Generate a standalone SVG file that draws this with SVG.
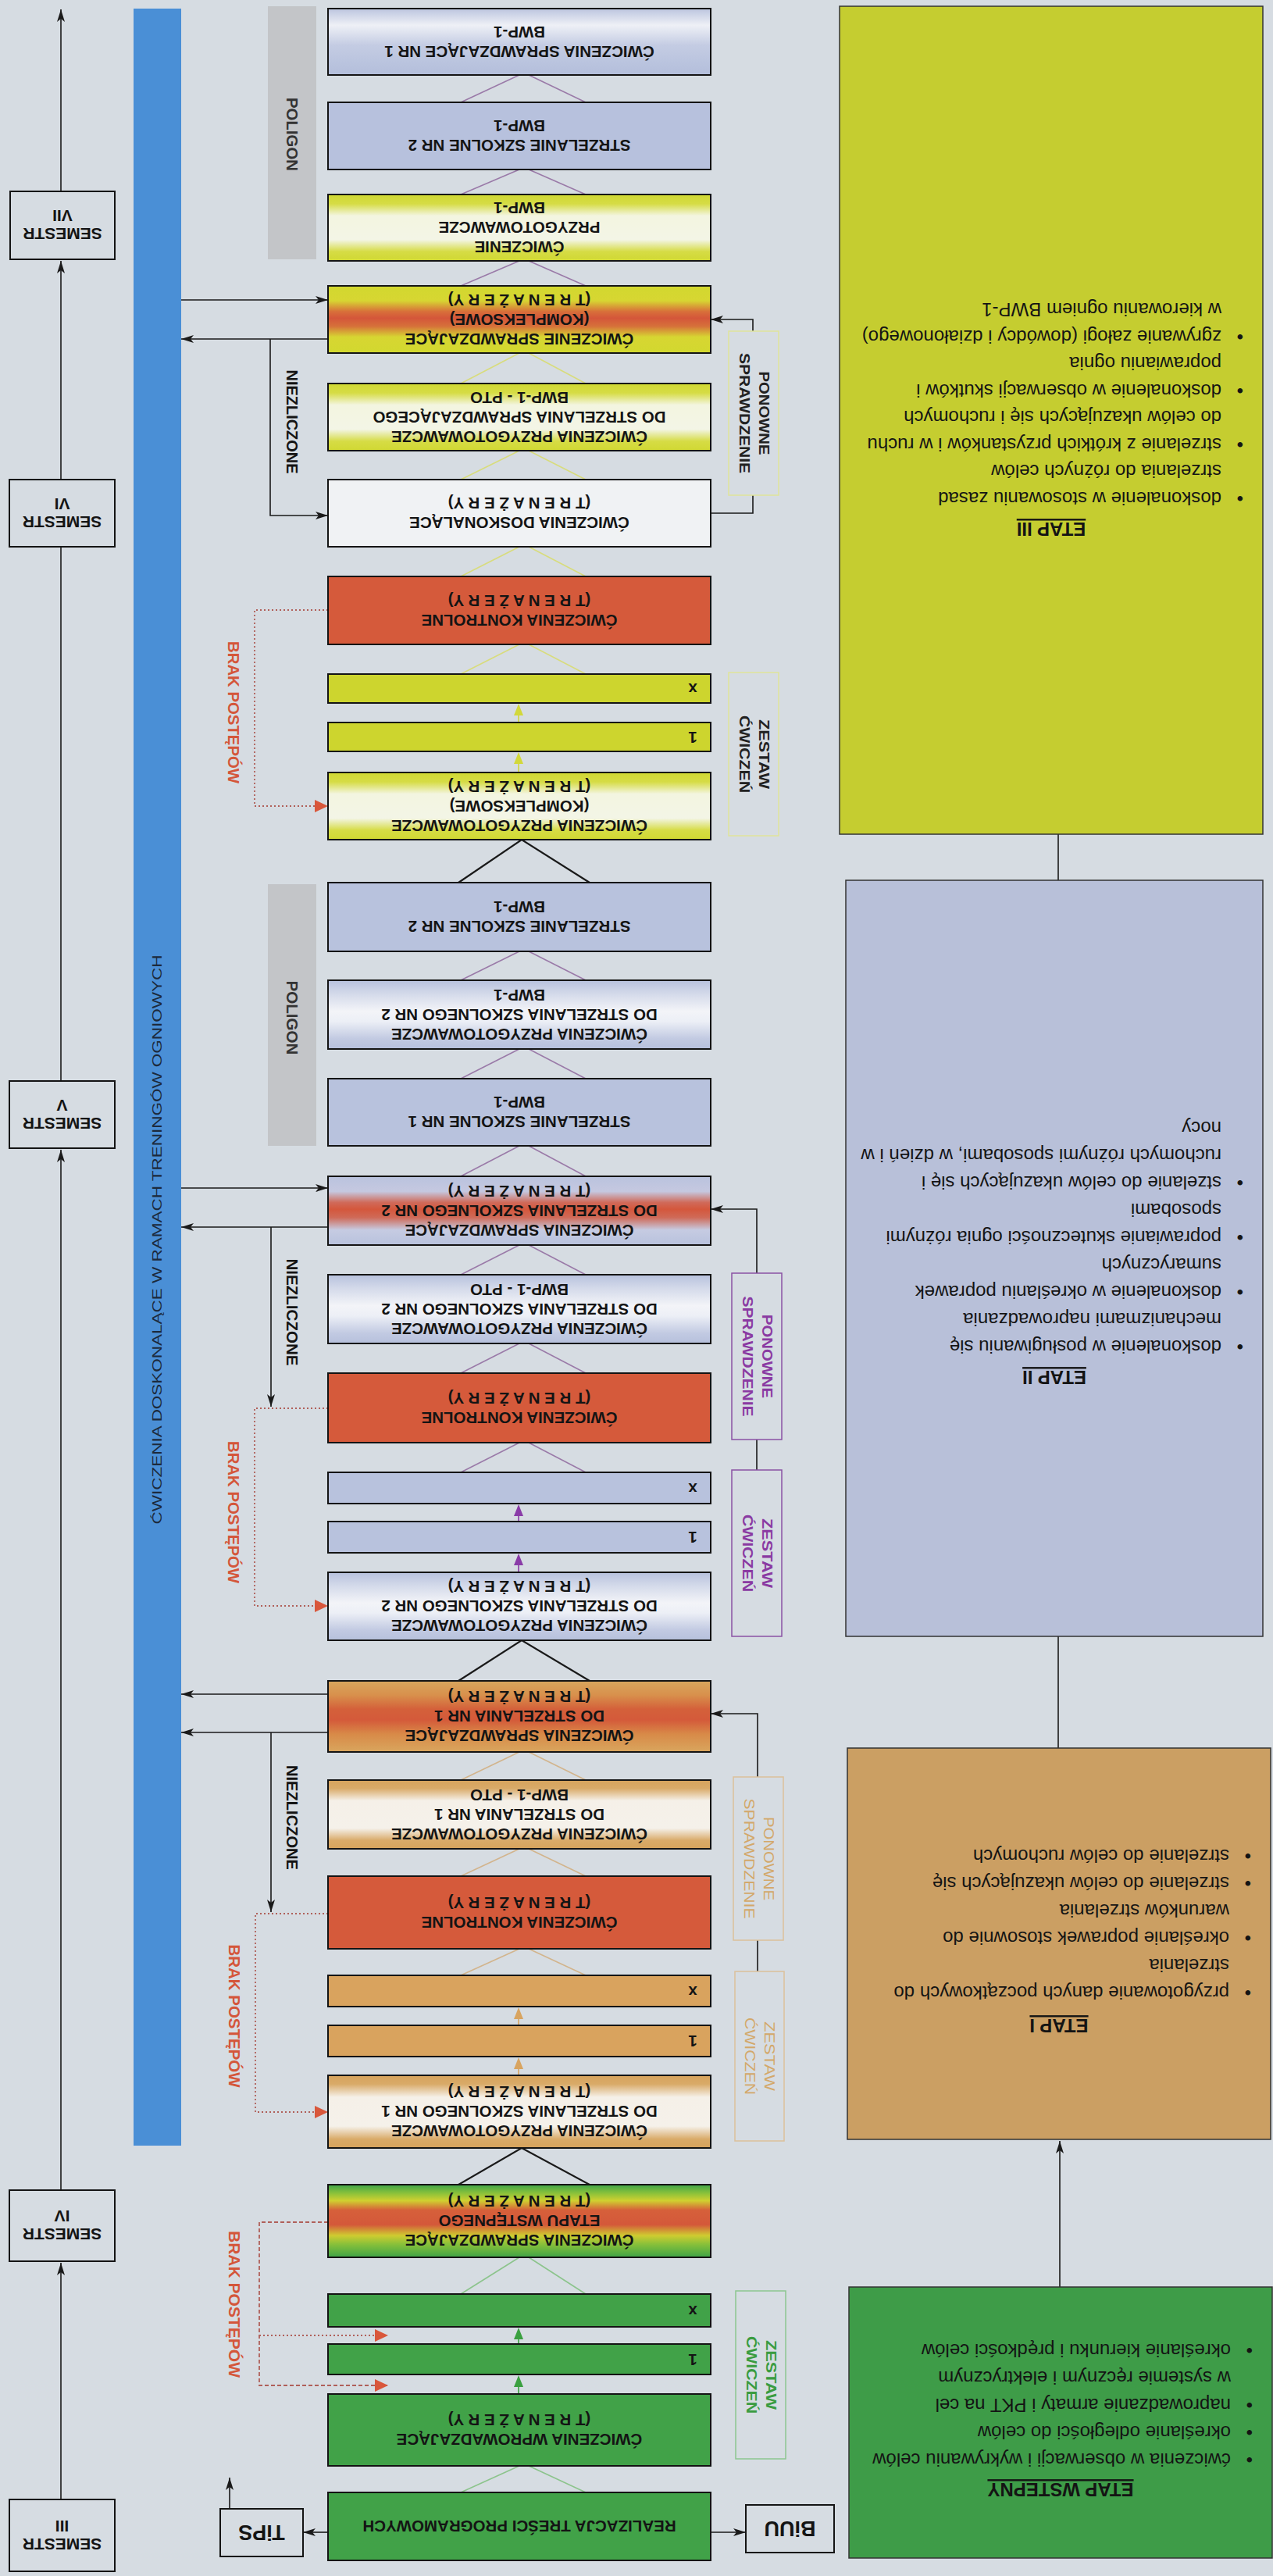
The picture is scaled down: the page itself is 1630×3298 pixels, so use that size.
<svg xmlns="http://www.w3.org/2000/svg" width="1630" height="3298" viewBox="0 0 1630 3298">
<defs>
<style>
.bt{font-family:"Liberation Sans",Arial,sans-serif;font-weight:bold;font-size:20.5px;text-anchor:middle;fill:#141414}
.st{font-family:"Liberation Sans",Arial,sans-serif;font-weight:bold;font-size:21px;text-anchor:middle;fill:#141414}
.et{font-family:"Liberation Sans",Arial,sans-serif;font-size:24px;fill:#141414}
.eh{font-family:"Liberation Sans",Arial,sans-serif;font-size:24px;font-weight:bold;text-anchor:middle;text-decoration:underline;fill:#141414}
.vl{font-family:"Liberation Sans Narrow","Liberation Sans",Arial,sans-serif;font-weight:bold;font-size:21px}
.lb{font-family:"Liberation Sans Narrow","Liberation Sans",Arial,sans-serif;font-weight:bold;font-size:18px}
.bar{font-family:"Liberation Sans Narrow","Liberation Sans",Arial,sans-serif;font-size:17px;fill:#1c2a3c}
.box{stroke:#141414;stroke-width:2}
.ln{fill:none;stroke:#1a1a1a;stroke-width:1.6}
.dot{fill:none;stroke:#b0605a;stroke-width:1.8;stroke-dasharray:2 3}
.dash{fill:none;stroke:#b0605a;stroke-width:1.8;stroke-dasharray:5 3}
.tp{fill:none;stroke:#9a7aa8;stroke-width:1.6}
.ty{fill:none;stroke:#d8dc7c;stroke-width:1.6}
.tt{fill:none;stroke:#d2b48c;stroke-width:1.6}
.tg{fill:none;stroke:#8cc48c;stroke-width:1.6}
.tk{fill:none;stroke:#1a1a1a;stroke-width:2.2}
</style>
<linearGradient id="gY" x1="0" y1="0" x2="0" y2="1"><stop offset="0" stop-color="#d0d832"/><stop offset="0.14" stop-color="#d6dc45"/><stop offset="0.32" stop-color="#f3f5e0"/><stop offset="0.68" stop-color="#f3f5e6"/><stop offset="0.86" stop-color="#d6dc45"/><stop offset="1" stop-color="#d0d832"/></linearGradient>
<linearGradient id="gYR" x1="0" y1="0" x2="0" y2="1"><stop offset="0" stop-color="#d2d82f"/><stop offset="0.22" stop-color="#d7d632"/><stop offset="0.38" stop-color="#d8703a"/><stop offset="0.48" stop-color="#d4563a"/><stop offset="0.6" stop-color="#d6703a"/><stop offset="0.76" stop-color="#d7d632"/><stop offset="1" stop-color="#d2d82f"/></linearGradient>
<linearGradient id="gBW" x1="0" y1="0" x2="0" y2="1"><stop offset="0" stop-color="#b7c1dd"/><stop offset="0.2" stop-color="#d4daea"/><stop offset="0.45" stop-color="#f3f4f8"/><stop offset="0.6" stop-color="#eceff6"/><stop offset="0.85" stop-color="#c2cae2"/><stop offset="1" stop-color="#b6c0dc"/></linearGradient>
<linearGradient id="gB1" x1="0" y1="0" x2="0" y2="1"><stop offset="0" stop-color="#bcc5df"/><stop offset="0.25" stop-color="#eef0f6"/><stop offset="0.55" stop-color="#c4cce3"/><stop offset="1" stop-color="#b3bedb"/></linearGradient>
<linearGradient id="gBR" x1="0" y1="0" x2="0" y2="1"><stop offset="0" stop-color="#bac3de"/><stop offset="0.22" stop-color="#c5c8e0"/><stop offset="0.38" stop-color="#d06a5a"/><stop offset="0.48" stop-color="#d4573c"/><stop offset="0.6" stop-color="#cf6a58"/><stop offset="0.78" stop-color="#c6cbe2"/><stop offset="1" stop-color="#b8c2dd"/></linearGradient>
<linearGradient id="gO" x1="0" y1="0" x2="0" y2="1"><stop offset="0" stop-color="#d6a35c"/><stop offset="0.12" stop-color="#d9aa68"/><stop offset="0.3" stop-color="#f5f0e8"/><stop offset="0.7" stop-color="#f5f1ea"/><stop offset="0.88" stop-color="#d9aa68"/><stop offset="1" stop-color="#d6a35c"/></linearGradient>
<linearGradient id="gOR" x1="0" y1="0" x2="0" y2="1"><stop offset="0" stop-color="#d8a65d"/><stop offset="0.2" stop-color="#d8904c"/><stop offset="0.4" stop-color="#d4603a"/><stop offset="0.55" stop-color="#d45a3a"/><stop offset="0.75" stop-color="#d88a48"/><stop offset="1" stop-color="#d9a65e"/></linearGradient>
<linearGradient id="gGR" x1="0" y1="0" x2="0" y2="1"><stop offset="0" stop-color="#3ea447"/><stop offset="0.12" stop-color="#8cc23a"/><stop offset="0.22" stop-color="#d0d030"/><stop offset="0.35" stop-color="#d6603a"/><stop offset="0.55" stop-color="#d4583a"/><stop offset="0.7" stop-color="#cfcc30"/><stop offset="0.82" stop-color="#88c03a"/><stop offset="1" stop-color="#3ea447"/></linearGradient>
<marker id="ah" markerWidth="18" markerHeight="10" refX="16" refY="5" orient="auto" markerUnits="userSpaceOnUse"><path d="M0,0 L16,5 L0,10 L4,5 z" fill="#1a1a1a"/></marker>
<marker id="ahr" markerWidth="18" markerHeight="16" refX="17" refY="8" orient="auto" markerUnits="userSpaceOnUse"><path d="M0,0 L17,8 L0,16 z" fill="#d9573b"/></marker>
</defs>
<rect width="1630" height="3298" fill="#d6dce2"/>

<g id="connectors">
<path class="ln" d="M78,245 V12" marker-end="url(#ah)"/>
<path class="ln" d="M78,614 V334" marker-end="url(#ah)"/>
<path class="ln" d="M78,1384 V700"/>
<path class="ln" d="M78,2804 V1472" marker-end="url(#ah)"/>
<path class="ln" d="M78,3200 V2897" marker-end="url(#ah)"/>
<path class="ln" d="M232,384 H420" marker-end="url(#ah)"/>
<path class="ln" d="M420,434 H232" marker-end="url(#ah)"/>
<path class="ln" d="M346,434 V660 H420" marker-end="url(#ah)"/>
<path class="ln" d="M232,1521 H420" marker-end="url(#ah)"/>
<path class="ln" d="M420,1571 H232" marker-end="url(#ah)"/>
<path class="ln" d="M347,1571 V1801" marker-end="url(#ah)"/>
<path class="ln" d="M420,2169 H232" marker-end="url(#ah)"/>
<path class="ln" d="M420,2218 H232" marker-end="url(#ah)"/>
<path class="ln" d="M347,2218 V2448" marker-end="url(#ah)"/>
<path class="dot" d="M420,781 H326 V1032 H420" marker-end="url(#ahr)"/>
<path class="dot" d="M420,1803 H326 V2056 H420" marker-end="url(#ahr)"/>
<path class="dot" d="M420,2450 H327 V2704 H420" marker-end="url(#ahr)"/>
<path class="dash" d="M420,2845 H332 V3054 H497" marker-end="url(#ahr)"/>
<path class="dot" d="M332,2990 H497" marker-end="url(#ahr)"/>
<path class="ln" d="M910,657 H964 V409 H910" marker-end="url(#ah)"/>
<path class="ln" d="M969,1882 V1548 H910" marker-end="url(#ah)"/>
<path class="ln" d="M970,2524 V2194 H910" marker-end="url(#ah)"/>
<path class="ln" d="M1355,1068 V1127"/>
<path class="ln" d="M1355,2095 V2238"/>
<path class="ln" d="M1357,2928 V2741" marker-end="url(#ah)"/>
<path class="ln" d="M420,3242 H388" marker-end="url(#ah)"/>
<path class="ln" d="M910,3242 H955" marker-end="url(#ah)"/>
<path class="ln" d="M294,3212 V3172" marker-end="url(#ah)"/>
<path class="tp" d="M590,131 L665,96 M677,96 L750,131"/>
<path class="tp" d="M590,249 L665,217 M677,217 L750,249"/>
<path class="tp" d="M590,366 L665,334 M677,334 L750,366"/>
<path class="ty" d="M590,491 L665,452 M677,452 L750,491"/>
<path class="ty" d="M590,614 L665,577 M677,577 L750,614"/>
<path class="ty" d="M590,738 L665,700 M677,700 L750,738"/>
<path class="ty" d="M590,863 L665,825 M677,825 L750,863"/>
<path class="tk" d="M587,1130 L668,1075 L755,1130"/>
<path class="tp" d="M590,1255 L665,1218 M677,1218 L750,1255"/>
<path class="tp" d="M590,1381 L665,1343 M677,1343 L750,1381"/>
<path class="tp" d="M590,1506 L665,1467 M677,1467 L750,1506"/>
<path class="tp" d="M590,1632 L665,1594 M677,1594 L750,1632"/>
<path class="tp" d="M590,1758 L665,1720 M677,1720 L750,1758"/>
<path class="tp" d="M590,1885 L665,1847 M677,1847 L750,1885"/>
<path class="tk" d="M587,2152 L668,2100 L755,2152"/>
<path class="tt" d="M590,2279 L665,2243 M677,2243 L750,2279"/>
<path class="tt" d="M590,2402 L665,2367 M677,2367 L750,2402"/>
<path class="tt" d="M590,2529 L665,2495 M677,2495 L750,2529"/>
<path class="tk" d="M587,2797 L668,2750 L755,2797"/>
<path class="tg" d="M590,2937 L665,2890 M677,2890 L750,2937"/>
<path class="tg" d="M590,3191 L665,3157 M677,3157 L750,3191"/>
<g stroke-width="1.6" fill="none">
<path stroke="#d2d83a" d="M664,925 V914 M664,989 V977"/>
<path stroke="#8a3ca8" d="M664,1948 V1939 M664,2013 V2002"/>
<path stroke="#d8a460" d="M664,2593 V2583 M664,2657 V2647"/>
<path stroke="#3aa040" d="M664,3001 V2993 M664,3065 V3054"/>
</g>
<polygon fill="#d2d83a" points="658,916 664,901 670,916"/>
<polygon fill="#d2d83a" points="658,978 664,963 670,978"/>
<polygon fill="#8a3ca8" points="658,1941 664,1926 670,1941"/>
<polygon fill="#8a3ca8" points="658,2004 664,1989 670,2004"/>
<polygon fill="#d8a460" points="658,2585 664,2570 670,2585"/>
<polygon fill="#d8a460" points="658,2649 664,2634 670,2649"/>
<polygon fill="#3aa040" points="658,2995 664,2980 670,2995"/>
<polygon fill="#3aa040" points="658,3056 664,3041 670,3056"/>
</g>

<g id="semester-vii"><rect class="box" x="13" y="245" width="134" height="87" fill="none"/><text class="st" transform="rotate(180 80 288.5)"><tspan x="80" y="285">SEMESTR</tspan><tspan x="80" y="308">VII</tspan></text></g>
<g id="semester-vi"><rect class="box" x="12" y="614" width="135" height="86" fill="none"/><text class="st" transform="rotate(180 79.5 657)"><tspan x="79.5" y="653.5">SEMESTR</tspan><tspan x="79.5" y="676.5">VI</tspan></text></g>
<g id="semester-v"><rect class="box" x="12" y="1384" width="135" height="86" fill="none"/><text class="st" transform="rotate(180 79.5 1427)"><tspan x="79.5" y="1423.5">SEMESTR</tspan><tspan x="79.5" y="1446.5">V</tspan></text></g>
<g id="semester-iv"><rect class="box" x="12" y="2804" width="135" height="91" fill="none"/><text class="st" transform="rotate(180 79.5 2849.5)"><tspan x="79.5" y="2846">SEMESTR</tspan><tspan x="79.5" y="2869">IV</tspan></text></g>
<g id="semester-iii"><rect class="box" x="12" y="3200" width="135" height="92" fill="none"/><text class="st" transform="rotate(180 79.5 3246)"><tspan x="79.5" y="3242.5">SEMESTR</tspan><tspan x="79.5" y="3265.5">III</tspan></text></g>

<g id="bar-doskonalace"><rect x="171" y="11" width="61" height="2736" fill="#4a8fd6"/><text class="bar" transform="rotate(-90 201 1587)" x="-163.5" y="1593" textLength="729" lengthAdjust="spacingAndGlyphs">ĆWICZENIA DOSKONALĄCE W RAMACH TRENINGÓW OGNIOWYCH</text></g>

<g id="poligon-1"><rect x="343" y="8" width="62" height="324" fill="#c3c5c8"/><text class="vl" fill="#333" transform="rotate(90 374 172)" x="327" y="179.2" textLength="94" lengthAdjust="spacingAndGlyphs">POLIGON</text></g>
<g id="poligon-2"><rect x="343" y="1132" width="62" height="335" fill="#c3c5c8"/><text class="vl" fill="#333" transform="rotate(90 374 1303)" x="326.5" y="1310.2" textLength="95" lengthAdjust="spacingAndGlyphs">POLIGON</text></g>
<g id="label-niezliczone-1"><text class="vl" fill="#141414" transform="rotate(90 374 540)" x="307.5" y="547.2" textLength="133" lengthAdjust="spacingAndGlyphs">NIEZLICZONE</text></g>
<g id="label-niezliczone-2"><text class="vl" fill="#141414" transform="rotate(90 374 1680)" x="305.5" y="1687.2" textLength="137" lengthAdjust="spacingAndGlyphs">NIEZLICZONE</text></g>
<g id="label-niezliczone-3"><text class="vl" fill="#141414" transform="rotate(90 374 2327)" x="307" y="2334.2" textLength="134" lengthAdjust="spacingAndGlyphs">NIEZLICZONE</text></g>
<g id="label-brak-1"><text class="vl" fill="#d4563a" transform="rotate(90 299 912)" x="208" y="919.2" textLength="182" lengthAdjust="spacingAndGlyphs">BRAK POSTĘPÓW</text></g>
<g id="label-brak-2"><text class="vl" fill="#d4563a" transform="rotate(90 299 1936)" x="208" y="1943.2" textLength="182" lengthAdjust="spacingAndGlyphs">BRAK POSTĘPÓW</text></g>
<g id="label-brak-3"><text class="vl" fill="#d4563a" transform="rotate(90 300 2581)" x="208.5" y="2588.2" textLength="183" lengthAdjust="spacingAndGlyphs">BRAK POSTĘPÓW</text></g>
<g id="label-brak-4"><text class="vl" fill="#d4563a" transform="rotate(90 300 2950)" x="206" y="2957.2" textLength="188" lengthAdjust="spacingAndGlyphs">BRAK POSTĘPÓW</text></g>

<g id="b1"><rect class="box" x="420" y="11" width="490" height="85" fill="url(#gB1)"/><text class="bt" transform="rotate(180 665 53.5)"><tspan x="665" y="48.4">ĆWICZENIA SPRAWDZAJĄCE NR 1</tspan><tspan x="665" y="73.4">BWP-1</tspan></text></g>
<g id="b2"><rect class="box" x="420" y="131" width="490" height="86" fill="#b7c1dd"/><text class="bt" transform="rotate(180 665 174)"><tspan x="665" y="168.9">STRZELANIE SZKOLNE NR 2</tspan><tspan x="665" y="193.9">BWP-1</tspan></text></g>
<g id="b3"><rect class="box" x="420" y="249" width="490" height="85" fill="url(#gY)"/><text class="bt" transform="rotate(180 665 291.5)"><tspan x="665" y="273.9">ĆWICZENIE</tspan><tspan x="665" y="298.9">PRZYGOTOWAWCZE</tspan><tspan x="665" y="323.9">BWP-1</tspan></text></g>
<g id="b4"><rect class="box" x="420" y="366" width="490" height="86" fill="url(#gYR)"/><text class="bt" transform="rotate(180 665 409)"><tspan x="665" y="391.4">ĆWICZENIE SPRAWDZAJĄCE</tspan><tspan x="665" y="416.4">(KOMPLEKSOWE)</tspan><tspan x="665" y="441.4">(T R E N A Ż E R Y)</tspan></text></g>
<g id="b5"><rect class="box" x="420" y="491" width="490" height="86" fill="url(#gY)"/><text class="bt" transform="rotate(180 665 534)"><tspan x="665" y="516.4">ĆWICZENIA PRZYGOTOWAWCZE</tspan><tspan x="665" y="541.4">DO STRZELANIA SPRAWDZAJĄCEGO</tspan><tspan x="665" y="566.4">BWP-1 - PTO</tspan></text></g>
<g id="b6"><rect class="box" x="420" y="614" width="490" height="86" fill="#f0f2f4"/><text class="bt" transform="rotate(180 665 657)"><tspan x="665" y="651.9">ĆWICZENIA DOSKONALĄCE</tspan><tspan x="665" y="676.9">(T R E N A Ż E R Y)</tspan></text></g>
<g id="b7"><rect class="box" x="420" y="738" width="490" height="87" fill="#d55a3b"/><text class="bt" transform="rotate(180 665 781.5)"><tspan x="665" y="776.4">ĆWICZENIA KONTROLNE</tspan><tspan x="665" y="801.4">(T R E N A Ż E R Y)</tspan></text></g>
<g id="b8"><rect class="box" x="420" y="863" width="490" height="37" fill="#cdd52e"/><text class="bt" transform="rotate(180 665 881.5)" x="443" y="888">x</text></g>
<g id="b9"><rect class="box" x="420" y="925" width="490" height="37" fill="#cdd52e"/><text class="bt" transform="rotate(180 665 943.5)" x="443" y="950.5">1</text></g>
<g id="b10"><rect class="box" x="420" y="989" width="490" height="86" fill="url(#gY)"/><text class="bt" transform="rotate(180 665 1032)"><tspan x="665" y="1014.4">ĆWICZENIA PRZYGOTOWAWCZE</tspan><tspan x="665" y="1039.4">(KOMPLEKSOWE)</tspan><tspan x="665" y="1064.4">(T R E N A Ż E R Y)</tspan></text></g>
<g id="b11"><rect class="box" x="420" y="1130" width="490" height="88" fill="#b8c2dd"/><text class="bt" transform="rotate(180 665 1174)"><tspan x="665" y="1168.9">STRZELANIE SZKOLNE NR 2</tspan><tspan x="665" y="1193.9">BWP-1</tspan></text></g>
<g id="b12"><rect class="box" x="420" y="1255" width="490" height="88" fill="url(#gBW)"/><text class="bt" transform="rotate(180 665 1299)"><tspan x="665" y="1281.4">ĆWICZENIA PRZYGOTOWAWCZE</tspan><tspan x="665" y="1306.4">DO STRZELANIA SZKOLNEGO NR 2</tspan><tspan x="665" y="1331.4">BWP-1</tspan></text></g>
<g id="b13"><rect class="box" x="420" y="1381" width="490" height="86" fill="#b8c2dd"/><text class="bt" transform="rotate(180 665 1424)"><tspan x="665" y="1418.9">STRZELANIE SZKOLNE NR 1</tspan><tspan x="665" y="1443.9">BWP-1</tspan></text></g>
<g id="b14"><rect class="box" x="420" y="1506" width="490" height="88" fill="url(#gBR)"/><text class="bt" transform="rotate(180 665 1550)"><tspan x="665" y="1532.4">ĆWICZENIA SPRAWDZAJĄCE</tspan><tspan x="665" y="1557.4">DO STRZELANIA SZKOLNEGO NR 2</tspan><tspan x="665" y="1582.4">(T R E N A Ż E R Y)</tspan></text></g>
<g id="b15"><rect class="box" x="420" y="1632" width="490" height="88" fill="url(#gBW)"/><text class="bt" transform="rotate(180 665 1676)"><tspan x="665" y="1658.4">ĆWICZENIA PRZYGOTOWAWCZE</tspan><tspan x="665" y="1683.4">DO STRZELANIA SZKOLNEGO NR 2</tspan><tspan x="665" y="1708.4">BWP-1 - PTO</tspan></text></g>
<g id="b16"><rect class="box" x="420" y="1758" width="490" height="89" fill="#d55a3b"/><text class="bt" transform="rotate(180 665 1802.5)"><tspan x="665" y="1797.4">ĆWICZENIA KONTROLNE</tspan><tspan x="665" y="1822.4">(T R E N A Ż E R Y)</tspan></text></g>
<g id="b17"><rect class="box" x="420" y="1885" width="490" height="40" fill="#b8c2dd"/><text class="bt" transform="rotate(180 665 1905)" x="443" y="1911.5">x</text></g>
<g id="b18"><rect class="box" x="420" y="1948" width="490" height="40" fill="#b8c2dd"/><text class="bt" transform="rotate(180 665 1968)" x="443" y="1975">1</text></g>
<g id="b19"><rect class="box" x="420" y="2013" width="490" height="87" fill="url(#gBW)"/><text class="bt" transform="rotate(180 665 2056.5)"><tspan x="665" y="2038.9">ĆWICZENIA PRZYGOTOWAWCZE</tspan><tspan x="665" y="2063.9">DO STRZELANIA SZKOLNEGO NR 2</tspan><tspan x="665" y="2088.9">(T R E N A Ż E R Y)</tspan></text></g>
<g id="b20"><rect class="box" x="420" y="2152" width="490" height="91" fill="url(#gOR)"/><text class="bt" transform="rotate(180 665 2197.5)"><tspan x="665" y="2179.9">ĆWICZENIA SPRAWDZAJĄCE</tspan><tspan x="665" y="2204.9">DO STRZELANIA NR 1</tspan><tspan x="665" y="2229.9">(T R E N A Ż E R Y)</tspan></text></g>
<g id="b21"><rect class="box" x="420" y="2279" width="490" height="88" fill="url(#gO)"/><text class="bt" transform="rotate(180 665 2323)"><tspan x="665" y="2305.4">ĆWICZENIA PRZYGOTOWAWCZE</tspan><tspan x="665" y="2330.4">DO STRZELANIA NR 1</tspan><tspan x="665" y="2355.4">BWP-1 - PTO</tspan></text></g>
<g id="b22"><rect class="box" x="420" y="2402" width="490" height="93" fill="#d55a3b"/><text class="bt" transform="rotate(180 665 2448.5)"><tspan x="665" y="2443.4">ĆWICZENIA KONTROLNE</tspan><tspan x="665" y="2468.4">(T R E N A Ż E R Y)</tspan></text></g>
<g id="b23"><rect class="box" x="420" y="2529" width="490" height="40" fill="#d9a35e"/><text class="bt" transform="rotate(180 665 2549)" x="443" y="2555.5">x</text></g>
<g id="b24"><rect class="box" x="420" y="2593" width="490" height="40" fill="#d9a35e"/><text class="bt" transform="rotate(180 665 2613)" x="443" y="2620">1</text></g>
<g id="b25"><rect class="box" x="420" y="2657" width="490" height="93" fill="url(#gO)"/><text class="bt" transform="rotate(180 665 2703.5)"><tspan x="665" y="2685.9">ĆWICZENIA PRZYGOTOWAWCZE</tspan><tspan x="665" y="2710.9">DO STRZELANIA SZKOLNEGO NR 1</tspan><tspan x="665" y="2735.9">(T R E N A Ż E R Y)</tspan></text></g>
<g id="b26"><rect class="box" x="420" y="2797" width="490" height="93" fill="url(#gGR)"/><text class="bt" transform="rotate(180 665 2843.5)"><tspan x="665" y="2825.9">ĆWICZENIA SPRAWDZAJĄCE</tspan><tspan x="665" y="2850.9">ETAPU WSTĘPNEGO</tspan><tspan x="665" y="2875.9">(T R E N A Ż E R Y)</tspan></text></g>
<g id="b27"><rect class="box" x="420" y="2937" width="490" height="42" fill="#41a248"/><text class="bt" transform="rotate(180 665 2958)" x="443" y="2964.5">x</text></g>
<g id="b28"><rect class="box" x="420" y="3001" width="490" height="39" fill="#41a248"/><text class="bt" transform="rotate(180 665 3020.5)" x="443" y="3027.5">1</text></g>
<g id="b29"><rect class="box" x="420" y="3065" width="490" height="92" fill="#41a248"/><text class="bt" transform="rotate(180 665 3111)"><tspan x="665" y="3105.9">ĆWICZENIA WPROWADZAJĄCE</tspan><tspan x="665" y="3130.9">(T R E N A Ż E R Y)</tspan></text></g>
<g id="b30"><rect class="box" x="420" y="3191" width="490" height="87" fill="#41a248"/><text class="bt" transform="rotate(180 665 3234.5)" x="665" y="3241.9">REALIZACJA TREŚCI PROGRAMOWYCH</text></g>

<g id="tips"><rect class="box" x="282" y="3212" width="106" height="61" fill="none"/><text class="st" style="font-size:27px" transform="rotate(180 335 3242.5)" x="335" y="3252">TiPS</text></g>
<g id="biuu"><rect class="box" x="955" y="3207" width="113" height="61" fill="none"/><text class="st" style="font-size:27px" transform="rotate(180 1011.5 3237.5)" x="1011.5" y="3247">BiUU</text></g>

<g id="ponowne-1"><rect x="933" y="424" width="64" height="210" fill="#d6dce2" stroke="#dfe49a" stroke-width="1.5"/><text class="lb" fill="#222" transform="rotate(90 965 529)"><tspan x="911.5" y="522.5" textLength="107" lengthAdjust="spacingAndGlyphs">PONOWNE</tspan><tspan x="888" y="547.5" textLength="154" lengthAdjust="spacingAndGlyphs">SPRAWDZENIE</tspan></text></g>
<g id="zestaw-1"><rect x="933" y="861" width="64" height="209" fill="#d6dce2" stroke="#dfe49a" stroke-width="1.5"/><text class="lb" fill="#222" transform="rotate(90 965 965.5)"><tspan x="920.5" y="959" textLength="89" lengthAdjust="spacingAndGlyphs">ZESTAW</tspan><tspan x="915.5" y="984" textLength="99" lengthAdjust="spacingAndGlyphs">ĆWICZEŃ</tspan></text></g>
<g id="ponowne-2"><rect x="937" y="1630" width="64" height="213" fill="#d6dce2" stroke="#8a52a4" stroke-width="1.5"/><text class="lb" fill="#8a3aa2" transform="rotate(90 969 1736.5)"><tspan x="915.5" y="1730" textLength="107" lengthAdjust="spacingAndGlyphs">PONOWNE</tspan><tspan x="892" y="1755" textLength="154" lengthAdjust="spacingAndGlyphs">SPRAWDZENIE</tspan></text></g>
<g id="zestaw-2"><rect x="937" y="1882" width="64" height="213" fill="#d6dce2" stroke="#8a52a4" stroke-width="1.5"/><text class="lb" fill="#8a3aa2" transform="rotate(90 969 1988.5)"><tspan x="924.5" y="1982" textLength="89" lengthAdjust="spacingAndGlyphs">ZESTAW</tspan><tspan x="919.5" y="2007" textLength="99" lengthAdjust="spacingAndGlyphs">ĆWICZEŃ</tspan></text></g>
<g id="ponowne-3"><rect x="939" y="2275" width="64" height="209" fill="#d6dce2" stroke="#dcc09a" stroke-width="1.5"/><text class="lb" fill="#d3a86a" style="font-weight:normal" transform="rotate(90 971 2379.5)"><tspan x="917.5" y="2373" textLength="107" lengthAdjust="spacingAndGlyphs">PONOWNE</tspan><tspan x="894" y="2398" textLength="154" lengthAdjust="spacingAndGlyphs">SPRAWDZENIE</tspan></text></g>
<g id="zestaw-3"><rect x="941" y="2524" width="63" height="217" fill="#d6dce2" stroke="#dcc09a" stroke-width="1.5"/><text class="lb" fill="#d3a86a" style="font-weight:normal" transform="rotate(90 972.5 2632.5)"><tspan x="928" y="2626" textLength="89" lengthAdjust="spacingAndGlyphs">ZESTAW</tspan><tspan x="923" y="2651" textLength="99" lengthAdjust="spacingAndGlyphs">ĆWICZEŃ</tspan></text></g>
<g id="zestaw-4"><rect x="942" y="2933" width="64" height="215" fill="#d6dce2" stroke="#8cc690" stroke-width="1.5"/><text class="lb" fill="#3a9c40" transform="rotate(90 974 3040.5)"><tspan x="929.5" y="3034" textLength="89" lengthAdjust="spacingAndGlyphs">ZESTAW</tspan><tspan x="924.5" y="3059" textLength="99" lengthAdjust="spacingAndGlyphs">ĆWICZEŃ</tspan></text></g>

<g id="etap-3"><rect x="1075" y="8" width="542" height="1060" fill="#c5cd30" stroke="#333" stroke-width="1.5"/>
<g transform="rotate(180 1346 538)">
<text class="eh" x="1346" y="407.5">ETAP III</text>
<text class="et"><tspan x="1100" y="446.5">•</tspan><tspan x="1100" y="515.5">•</tspan><tspan x="1100" y="584.5">•</tspan><tspan x="1100" y="653.5">•</tspan></text>
<text class="et"><tspan x="1128" y="446.5">doskonalenie w stosowaniu zasad</tspan><tspan x="1128" y="481">strzelania do różnych celów</tspan><tspan x="1128" y="515.5">strzelanie z krótkich przystanków i w ruchu</tspan><tspan x="1128" y="550">do celów ukazujących się i ruchomych</tspan><tspan x="1128" y="584.5">doskonalenie w obserwacji skutków i</tspan><tspan x="1128" y="619">poprawianiu ognia</tspan><tspan x="1128" y="653.5">zgrywanie załogi (dowódcy i działonowego)</tspan><tspan x="1128" y="688">w kierowaniu ogniem BWP-1</tspan></text>
</g></g>
<g id="etap-2"><rect x="1083" y="1127" width="534" height="968" fill="#b8c0d9" stroke="#333" stroke-width="1.5"/>
<g transform="rotate(180 1350 1611)">
<text class="eh" x="1350" y="1467.5">ETAP II</text>
<text class="et"><tspan x="1108" y="1506.5">•</tspan><tspan x="1108" y="1576.5">•</tspan><tspan x="1108" y="1646.5">•</tspan><tspan x="1108" y="1716.5">•</tspan></text>
<text class="et"><tspan x="1136" y="1506.5">doskonalenie w posługiwaniu się</tspan><tspan x="1136" y="1541.5">mechanizmami naprowadzania</tspan><tspan x="1136" y="1576.5">doskonalenie w określaniu poprawek</tspan><tspan x="1136" y="1611.5">sumarycznych</tspan><tspan x="1136" y="1646.5">poprawianie skuteczności ognia różnymi</tspan><tspan x="1136" y="1681.5">sposobami</tspan><tspan x="1136" y="1716.5">stzelanie do celów ukazujących się i</tspan><tspan x="1136" y="1751.5">ruchomych różnymi sposobami, w dzień i w</tspan><tspan x="1136" y="1786.5">nocy</tspan></text>
</g></g>
<g id="etap-1"><rect x="1085" y="2238" width="542" height="501" fill="#cb9f63" stroke="#333" stroke-width="1.5"/>
<g transform="rotate(180 1356 2488.5)">
<text class="eh" x="1356" y="2392.5">ETAP I</text>
<text class="et"><tspan x="1110" y="2434.5">•</tspan><tspan x="1110" y="2504.5">•</tspan><tspan x="1110" y="2574.5">•</tspan><tspan x="1110" y="2609.5">•</tspan></text>
<text class="et"><tspan x="1138" y="2434.5">przygotowanie danych początkowych do</tspan><tspan x="1138" y="2469.5">strzelania</tspan><tspan x="1138" y="2504.5">określanie poprawek stosownie do</tspan><tspan x="1138" y="2539.5">warunków strzelania</tspan><tspan x="1138" y="2574.5">strzelanie do celów ukazujących się</tspan><tspan x="1138" y="2609.5">strzelanie do celów ruchomych</tspan></text>
</g></g>
<g id="etap-wstepny"><rect x="1087" y="2928" width="542" height="347" fill="#3e9c48" stroke="#333" stroke-width="1.5"/>
<g transform="rotate(180 1358 3101.5)">
<text class="eh" x="1358" y="3024.5">ETAP WSTEPNY</text>
<text class="et"><tspan x="1112" y="3062.5">•</tspan><tspan x="1112" y="3097.5">•</tspan><tspan x="1112" y="3132.5">•</tspan><tspan x="1112" y="3202.5">•</tspan></text>
<text class="et"><tspan x="1140" y="3062.5">ćwiczenia w obserwacji i wykrywaniu celów</tspan><tspan x="1140" y="3097.5">określanie odległości do celów</tspan><tspan x="1140" y="3132.5">naprowadzanie armaty i PKT na cel</tspan><tspan x="1140" y="3167.5">w systemie ręcznym i elektrycznym</tspan><tspan x="1140" y="3202.5">określanie kierunku i prędkości celów</tspan></text>
</g></g>
</svg>
